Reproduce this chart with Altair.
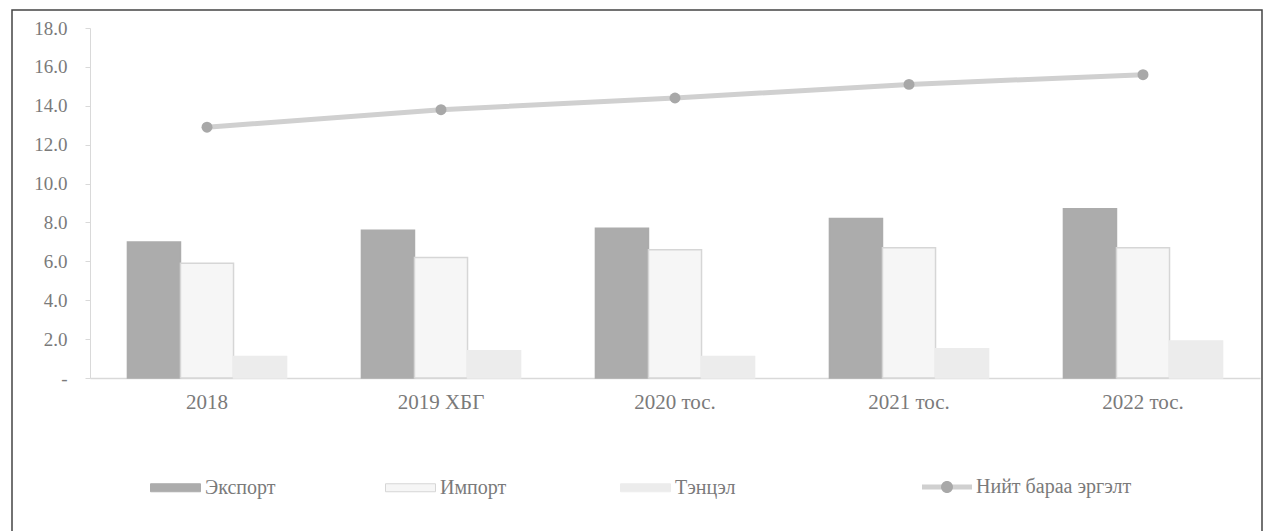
import altair as alt
import pandas as pd

years = ["2018", "2019 ХБГ", "2020 тос.", "2021 тос.", "2022 тос."]
series = ["Экспорт", "Импорт", "Тэнцэл"]
export_vals = [7.0, 7.6, 7.7, 8.2, 8.7]
import_vals = [5.9, 6.2, 6.6, 6.7, 6.7]
balance_vals = [1.1, 1.4, 1.1, 1.5, 1.9]
line_name = "Нийт бараа эргэлт"
total_vals = [12.9, 13.8, 14.4, 15.1, 15.6]
y_ticks = [0, 2, 4, 6, 8, 10, 12, 14, 16, 18]

FONT = "Liberation Serif"
TXT = "#7a7a7a"

rows = []
for s, vals in zip(series, [export_vals, import_vals, balance_vals]):
    for y, v in zip(years, vals):
        rows.append({"year": y, "series": s, "value": v})
bars_df = pd.DataFrame(rows)
line_df = pd.DataFrame({"year": years, "value": total_vals, "name": [line_name] * len(years)})
frame_df = pd.DataFrame({"k": [0]})

x_scale = alt.Scale(domain=years, paddingInner=0.32, paddingOuter=0.16)
y_scale = alt.Scale(domain=[0, 18], nice=False)

x_axis = alt.Axis(title=None, labelFont=FONT, labelFontSize=21, labelColor=TXT,
                  labelAngle=0, labelPadding=13, ticks=False,
                  domainColor="#d9d9d9", domainWidth=1.5)
y_axis = alt.Axis(title=None, values=y_ticks, grid=False,
                  labelExpr="datum.value == 0 ? '-' : format(datum.value, '.1f')",
                  labelFont=FONT, labelFontSize=19, labelColor=TXT, labelPadding=18,
                  tickColor="#d9d9d9", tickSize=5, domainColor="#d9d9d9")

fill_colors = ["#acacac", "#f6f6f6", "#ececec"]
stroke_colors = ["#acacac", "#d6d6d6", "#ececec"]

LEG_Y = 434

bar_legend = alt.Legend(title=None, orient="none", legendX=60, legendY=LEG_Y,
                        direction="horizontal", labelFont=FONT, labelFontSize=20,
                        labelColor=TXT, symbolType="M-1,-0.16H1V0.16H-1Z", symbolSize=2500,
                        symbolStrokeWidth=1, columnPadding=107, gridAlign="all",
                        labelOffset=4)

bars = alt.Chart(bars_df).mark_bar(strokeWidth=1.5).encode(
    x=alt.X("year:N", sort=years, scale=x_scale, axis=x_axis),
    xOffset=alt.XOffset("series:N", sort=series,
                        scale=alt.Scale(domain=series, paddingInner=0, paddingOuter=0)),
    y=alt.Y("value:Q", scale=y_scale, axis=y_axis),
    fill=alt.Fill("series:N", scale=alt.Scale(domain=series, range=fill_colors), legend=bar_legend),
    stroke=alt.Stroke("series:N", scale=alt.Scale(domain=series, range=stroke_colors), legend=bar_legend),
)

line = alt.Chart(line_df).mark_line(color="#d0d0d0", strokeWidth=5).encode(
    x=alt.X("year:N", sort=years, scale=x_scale, axis=x_axis),
    y=alt.Y("value:Q", scale=y_scale, axis=y_axis),
)

points = alt.Chart(line_df).mark_circle(color="#a8a8a8", size=120, opacity=1).encode(
    x=alt.X("year:N", sort=years, scale=x_scale, axis=x_axis),
    y=alt.Y("value:Q", scale=y_scale, axis=y_axis),
)

# legend entry for the total line: a bar-shaped stroke and a dot, drawn as two stacked legends
line_leg = alt.Legend(title=None, orient="none", legendX=832, legendY=LEG_Y,
                      labelFont=FONT, labelFontSize=20, labelColor=TXT,
                      symbolSize=2500, symbolFillColor="#d0d0d0", symbolStrokeWidth=0,
                      symbolOpacity=1, labelOffset=4)
dot_leg = alt.Legend(title=None, orient="none", legendX=832, legendY=LEG_Y,
                     labelFont=FONT, labelFontSize=20, labelColor=TXT, labelOpacity=0,
                     symbolSize=2500, symbolFillColor="#a8a8a8", symbolStrokeWidth=0,
                     symbolOpacity=1, labelOffset=4)

leg_line = alt.Chart(line_df).mark_point(filled=True, color="#d0d0d0", size=0).encode(
    x=alt.X("year:N", sort=years, scale=x_scale, axis=x_axis),
    y=alt.Y("value:Q", scale=y_scale, axis=y_axis),
    shape=alt.Shape("name:N", scale=alt.Scale(domain=[line_name],
                    range=["M-1,-0.1H1V0.1H-1Z"]), legend=line_leg),
)
leg_dot = alt.Chart(line_df).mark_point(filled=True, color="#a8a8a8", size=0).encode(
    x=alt.X("year:N", sort=years, scale=x_scale, axis=x_axis),
    y=alt.Y("value:Q", scale=y_scale, axis=y_axis),
    shape=alt.Shape("name:N", scale=alt.Scale(domain=[line_name],
                    range=["M-0.24,0A0.24,0.24 0 1 1 0.24,0A0.24,0.24 0 1 1 -0.24,0Z"]),
                    legend=dot_leg),
)

frame = alt.Chart(frame_df).mark_rect(filled=False, stroke="#444444", strokeWidth=1.5).encode(
    x=alt.value(-78), x2=alt.value(1172), y=alt.value(-18), y2=alt.value(540)
)

chart = alt.layer(bars, line, points, leg_line, leg_dot, frame).resolve_scale(
    fill="independent", stroke="independent", shape="independent"
).properties(
    width=1170, height=350,
    padding={"left": 82, "top": 20, "right": 3, "bottom": 153},
    autosize=alt.AutoSizeParams(type="none"),
    background="white",
).configure(font=FONT).configure_view(stroke=None).configure_legend(labelFont=FONT)

chart.save("out.html", embed_options={"renderer": "svg", "actions": False})
